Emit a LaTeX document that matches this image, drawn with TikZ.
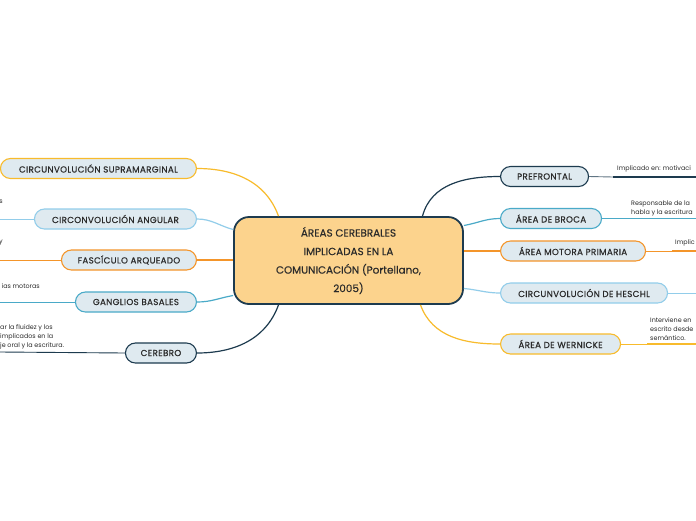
\documentclass[tikz,border=0pt]{standalone}
\usepackage{fontspec}
\setmainfont{Poppins}[FakeBold=0.4]
\newfontfamily\pillfont{Poppins}[LetterSpace=4, FakeBold=0.6]
\newfontfamily\leaffont{Poppins}
\usetikzlibrary{positioning, calc}
\definecolor{mmNavy}{HTML}{1D3B4F}
\definecolor{mmTeal}{HTML}{4AAAC8}
\definecolor{mmSky}{HTML}{92CDEA}
\definecolor{mmOrange}{HTML}{F4952A}
\definecolor{mmYellow}{HTML}{F8BB2C}
\definecolor{mmPill}{HTML}{DFEAF0}
\definecolor{mmCore}{HTML}{FCD38D}
\definecolor{mmText}{HTML}{2A2A2A}
\tikzset{
  core/.style={
    draw=mmNavy, line width=1.8pt, rounded corners=15pt,
    fill=mmCore, align=center, text=mmText,
    minimum width=229pt, minimum height=87pt, inner sep=0pt,
    font=\fontsize{10.4}{18.5}\selectfont
  },
  pill/.style={
    line width=1.1pt, rounded corners=10pt, fill=mmPill,
    text=mmText, minimum height=20pt, inner sep=0pt,
    font=\pillfont\fontsize{8.7}{10}\selectfont
  },
  leaf/.style={font=\leaffont\fontsize{6.4}{9}\selectfont, text=mmText, inner sep=0pt, align=left},
  branch/.style={line width=1.2pt},
  twig/.style={line width=0.9pt},
  under/.style={line width=1.6pt},
}

\begin{document}
\begin{tikzpicture}[x=1pt, y=-1pt]
  \clip (0,0) rectangle (696,520);
  \fill[white] (0,0) rectangle (696,520);

  % centre
  \node[core] (core) at (348.5,260.5)
    {ÁREAS CEREBRALES\\IMPLICADAS EN LA\\COMUNICACIÓN (Portellano,\\2005)};

  % left side
  \node[pill, draw=mmYellow, minimum width=196pt, anchor=east] (nSup) at (197,168.5) {CIRCUNVOLUCIÓN SUPRAMARGINAL};
  \node[pill, draw=mmSky, minimum width=162pt, anchor=east] (nAng) at (197,219) {CIRCONVOLUCIÓN ANGULAR};
  \node[pill, draw=mmOrange, minimum width=135pt, anchor=east] (nFas) at (197,260) {FASCÍCULO ARQUEADO};
  \node[pill, draw=mmTeal, minimum width=121pt, anchor=east] (nGan) at (197,302) {GANGLIOS BASALES};
  \node[pill, draw=mmNavy, minimum width=71pt, anchor=east] (nCer) at (197,353) {CEREBRO};

  \draw[branch, mmYellow] (nSup.east) to[out=0, in=110] ($(core.north)+(-70,0)$);
  \draw[branch, mmSky] (nAng.east) to[out=0, in=165] ($(core.west)+(0,-31)$);
  \draw[branch, mmOrange] (nFas.east) -- (core.west |- nFas.east);
  \draw[branch, mmTeal] (nGan.east) to[out=0, in=190] ($(core.west)+(0,35)$);
  \draw[branch, mmNavy] (nCer.east) to[out=0, in=-110] ($(core.south)+(-70,0)$);

  \node[leaf, anchor=east] (lAng) at (3,202) {s};
  \node[leaf, anchor=east] (lFas) at (3,243) {y};
  \node[leaf, anchor=east] (lGan) at (40,286) {ias motoras};
  \node[leaf, anchor=west] (lCer) at (0,337) {ar la fluidez y los\\ implicados en la\\je oral y la escritura.};

  \coordinate (eAng) at (0,219);
  \coordinate (eFas) at (0,260);
  \coordinate (eGan) at (0,302);
  \coordinate (eCer) at (0,352);
  \draw[twig, mmSky] (eAng) -- (nAng.west);
  \draw[twig, mmOrange] (eFas) -- (nFas.west);
  \draw[twig, mmTeal] (eGan) -- (nGan.west);
  \draw[twig, mmNavy] (eCer) -- (nCer.west);

  % right side
  \node[pill, draw=mmNavy, minimum width=88pt, anchor=west] (nPre) at (500,176.5) {PREFRONTAL};
  \node[pill, draw=mmTeal, minimum width=101pt, anchor=west] (nBro) at (500,218.5) {ÁREA DE BROCA};
  \node[pill, draw=mmOrange, minimum width=145pt, anchor=west] (nMot) at (500,251) {ÁREA MOTORA PRIMARIA};
  \node[pill, draw=mmSky, minimum width=167pt, anchor=west] (nHes) at (500,293) {CIRCUNVOLUCIÓN DE HESCHL};
  \node[pill, draw=mmYellow, minimum width=120pt, anchor=west] (nWer) at (500,344) {ÁREA DE WERNICKE};

  \draw[branch, mmNavy] ($(core.north)+(74,0)$) to[out=75, in=180] (nPre.west);
  \draw[branch, mmTeal] ($(core.east)+(0,-35)$) to[out=10, in=180] (nBro.west);
  \draw[branch, mmOrange] (core.east |- nMot.west) -- (nMot.west);
  \draw[branch, mmSky] ($(core.east)+(0,28)$) to[out=-5, in=180] (nHes.west);
  \draw[branch, mmYellow] ($(core.south)+(72,0)$) to[out=-70, in=180] (nWer.west);

  \node[leaf, anchor=west] (lPre) at (617,169) {Implicado en: motivaci};
  \node[leaf, anchor=west] (lBro) at (631,208) {Responsable de la\\habla y la escritura};
  \node[leaf, anchor=west] (lMot) at (675,243) {Implic};
  \node[leaf, anchor=west] (lWer) at (650,329) {Interviene en\\escrito desde\\semántico.};

  \coordinate (sPre) at (613,177);  \coordinate (ePre) at (696,177);
  \coordinate (sBro) at (628,218.5);\coordinate (eBro) at (696,218.5);
  \coordinate (sMot) at (672,251);  \coordinate (eMot) at (696,251);
  \coordinate (eHes) at (696,293);
  \coordinate (sWer) at (647,344);  \coordinate (eWer) at (696,344);
  \draw[twig, mmNavy!70] (nPre.east) -- (sPre);
  \draw[under, mmNavy] (sPre) -- (ePre);
  \draw[twig, mmTeal] (nBro.east) -- (sBro);
  \draw[under, mmTeal] (sBro) -- (eBro);
  \draw[twig, mmOrange] (nMot.east) -- (sMot);
  \draw[under, mmOrange] (sMot) -- (eMot);
  \draw[twig, mmSky] (nHes.east) -- (eHes);
  \draw[twig, mmYellow] (nWer.east) -- (sWer);
  \draw[under, mmYellow] (sWer) -- (eWer);
\end{tikzpicture}
\end{document}
